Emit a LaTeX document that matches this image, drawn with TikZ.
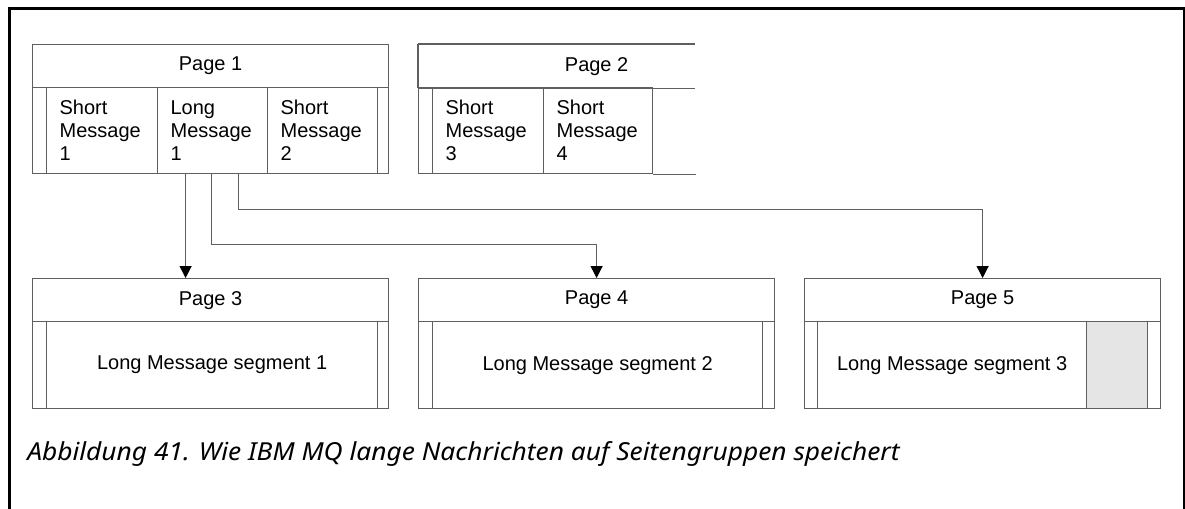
\documentclass[tikz,border=0pt]{standalone}
\usepackage{fontspec}
\setmainfont{Liberation Sans}
\newfontfamily\capfont{Noto Sans}
\usetikzlibrary{calc,arrows.meta}
\definecolor{linegray}{RGB}{95,95,95}
\definecolor{cellgray}{RGB}{229,229,229}
\def\px{0.75pt}
\tikzset{
  box/.style={draw=linegray, line width=0.9pt, anchor=north west, inner sep=0pt,
    minimum height={#1*0.75pt}},
  box/.default=43,
  hdr/.style={box=43, font=\fontsize{15pt}{17pt}\selectfont},
  msgcell/.style={box=86, align=left, inner xsep={13*0.75pt},
    font=\fontsize{15pt}{17.25pt}\selectfont},
  segcell/.style={box=87, font=\fontsize{15pt}{17pt}\selectfont},
  conn/.style={draw=linegray, line width=0.9pt,
    -{Triangle[width=9pt,length=9pt,fill=black,color=black]}},
  frame/.style={draw=black, line cap=rect}
}
\begin{document}
\begin{tikzpicture}[x=0.75pt,y=-0.75pt]
\useasboundingbox (0,0) rectangle (1185,508);
% outer frame
\draw[frame, line width=2.2pt] (9.5,508) coordinate (fbl) -- (9.5,8.5) coordinate (ftl) -- (1184,8.5) coordinate (ftr);
\draw[frame, line width=1.2pt] (ftr) -- (1184,508) coordinate (fbr);

% Page 1
\node[hdr, minimum width={356*\px}] (p1h) at (32,44) {Page 1};
\node[msgcell, minimum width={14*\px}, inner xsep=0pt] (p1l) at (32,87) {};
\node[msgcell, text width={85*\px}] (sm1) at (46,87) {Short\\Message\\1};
\node[msgcell, text width={84*\px}] (lm1) at (157,87) {Long\\Message\\1};
\node[msgcell, text width={84*\px}] (sm2) at (267,87) {Short\\Message\\2};
\node[msgcell, minimum width={11*\px}, inner xsep=0pt] (p1r) at (377,87) {};

% Page 2 (cut off at the right)
\node[hdr, draw=none, minimum width={356*\px}] (p2h) at (418,44) {Page 2};
\node[msgcell, minimum width={14*\px}, inner xsep=0pt] (p2l) at (418,87) {};
\node[msgcell, text width={85*\px}] (sm3) at (432,87) {Short\\Message\\3};
\node[msgcell, text width={83*\px}] (sm4) at (543,87) {Short\\Message\\4};
\draw[draw=linegray, line width=0.9pt] (p2h.north west) -- ($(p2h.north west)+(277,0)$);
\draw[draw=linegray, line width=0.9pt] (p2h.south west) -- ($(p2h.south west)+(277,0)$);
\draw[draw=linegray, line width=0.9pt] (p2h.north west) -- (p2h.south west);
\draw[draw=linegray, line width=0.9pt] (sm4.south east) -- ($(sm4.south east)+(43,0)$);

% Page 3
\node[hdr, minimum width={356*\px}] (p3h) at (32,278) {Page 3};
\node[segcell, minimum width={14*\px}] (p3l) at (32,321) {};
\node[segcell, minimum width={331*\px}] (seg1) at (46,321) {Long Message segment 1};
\node[segcell, minimum width={11*\px}] (p3r) at (377,321) {};

% Page 4
\node[hdr, minimum width={356*\px}] (p4h) at (418,278) {Page 4};
\node[segcell, minimum width={14*\px}] (p4l) at (418,321) {};
\node[segcell, minimum width={330*\px}] (seg2) at (432,321) {Long Message segment 2};
\node[segcell, minimum width={12*\px}] (p4r) at (762,321) {};

% Page 5
\node[hdr, minimum width={356*\px}] (p5h) at (804,278) {Page 5};
\node[segcell, minimum width={13*\px}] (p5l) at (804,321) {};
\node[segcell, minimum width={269*\px}] (seg3) at (817,321) {Long Message segment 3};
\node[segcell, minimum width={61*\px}, fill=cellgray] (p5g) at (1086,321) {};
\node[segcell, minimum width={13*\px}] (p5r) at (1147,321) {};

% connectors
\coordinate (c1) at ($(lm1.south)+(-27,0)$);
\coordinate (c2) at ($(lm1.south)+(-1,0)$);
\coordinate (c3) at ($(lm1.south)+(26,0)$);
\draw[conn] (c1) -- (c1 |- p3h.north);
\draw[conn] (c2) -- ++(0,70) -| (p4h.north);
\draw[conn] (c3) -- ++(0,35) -| (p5h.north);

% caption
\node[anchor=base west, inner sep=0pt, font=\capfont\itshape\fontsize{18.6pt}{20pt}\selectfont] (cap) at (27,460.5)
  {\scalebox{1.062}[1]{Abbildung 41. Wie IBM MQ lange Nachrichten auf Seitengruppen speichert}};
\end{tikzpicture}
\end{document}
